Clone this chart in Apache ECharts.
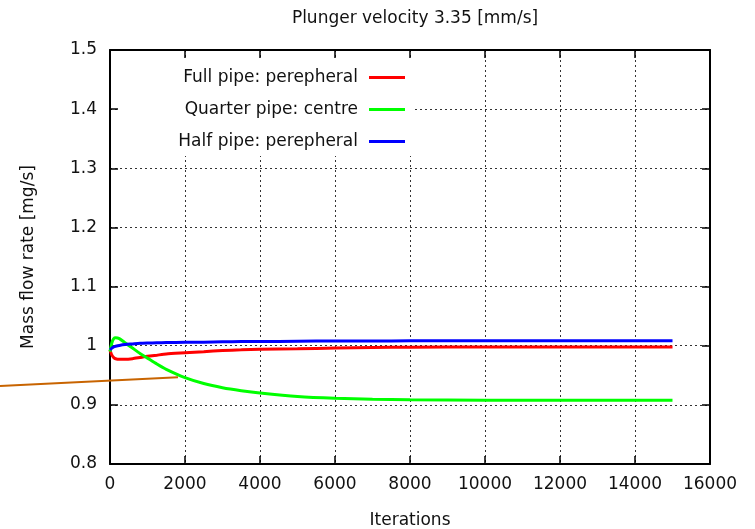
<!DOCTYPE html>
<html>
<head>
<meta charset="utf-8">
<script src="https://cdn.jsdelivr.net/npm/echarts@6/dist/echarts.min.js"></script>
<style>
  html, body { margin: 0; padding: 0; background: #fff; }
  #main { width: 755px; height: 529px; }
</style>
</head>
<body>
<div id="main"></div>
<script type="text/javascript">
var iters = [0, 50, 100, 150, 250, 400, 600, 800, 1000, 1250, 1500, 2000, 2500, 3000,
             3500, 4000, 5000, 6000, 7000, 8000, 10000, 12000, 15000];

var fullPipe = [0.993, 0.984, 0.980, 0.978, 0.977, 0.977, 0.978, 0.980, 0.982, 0.984, 0.986, 0.988, 0.990, 0.992,
                0.993, 0.994, 0.995, 0.996, 0.997, 0.9975, 0.998, 0.998, 0.998];
var quarterPipe = [0.990, 1.005, 1.012, 1.0135, 1.012, 1.005, 0.996, 0.987, 0.979, 0.969, 0.960, 0.946, 0.936, 0.929,
                   0.924, 0.920, 0.914, 0.911, 0.9095, 0.9085, 0.908, 0.9078, 0.9077];
var halfPipe = [0.993, 0.996, 0.998, 0.999, 1.0005, 1.002, 1.003, 1.004, 1.0045, 1.005, 1.0053, 1.0058, 1.006, 1.0065,
                1.007, 1.007, 1.0075, 1.008, 1.008, 1.0082, 1.0085, 1.0085, 1.0085];

// stray annotation line (starts left of the plot)
var pointerX = [-2933, 1813];
var pointerY = [0.932, 0.9466];

var seriesNames = ['Full pipe: perepheral', 'Quarter pipe: centre', 'Half pipe: perepheral'];
var seriesColors = ['#ff0000', '#00ff00', '#0000ff'];

function pairs(xs, ys) {
  var out = [];
  for (var i = 0; i < xs.length; i++) out.push([xs[i], ys[i]]);
  return out;
}

var font = 'DejaVu Sans';
var txt = { fontFamily: font, fontSize: 17, color: '#111' };
var myChart = echarts.init(document.getElementById('main'));

var gridLine = { show: true, lineStyle: { color: '#333', width: 1, type: [2, 3] } };
var border = { show: true, onZero: false, lineStyle: { color: '#000', width: 2 } };
var tick = { show: true, inside: true, length: 8, lineStyle: { color: '#000', width: 1.5 } };

var legends = [];
var rowTops = [69, 101, 133];
for (var k = 0; k < seriesNames.length; k++) {
  legends.push({
    data: [seriesNames[k]],
    right: 350,
    top: rowTops[k],
    align: 'right',
    icon: 'rect',
    itemWidth: 36,
    itemHeight: 3,
    padding: 0,
    textStyle: { fontFamily: font, fontSize: 17, color: '#111', padding: [0, 6, 0, 0] }
  });
}

var option = {
  animation: false,
  backgroundColor: '#fff',
  title: {
    text: 'Plunger velocity 3.35 [mm/s]',
    left: 410,
    top: 5,
    textAlign: 'center',
    textStyle: { fontFamily: font, fontSize: 17, fontWeight: 'normal', color: '#111' }
  },
  legend: legends,
  grid: [
    { left: 110, right: 45, top: 50, bottom: 65, outerBoundsMode: 'none' },
    // same height, reaching the left edge: carries the pointer line
    { left: 0, right: 45, top: 50, bottom: 65, outerBoundsMode: 'none' }
  ],
  graphic: [{
    type: 'rect',
    z: 1,
    shape: { x: 119, y: 59, width: 294, height: 97 },
    style: { fill: '#fff' }
  }],
  xAxis: [{
    type: 'value',
    min: 0, max: 16000, interval: 2000,
    name: 'Iterations',
    nameLocation: 'middle',
    nameGap: 48,
    nameTextStyle: txt,
    axisLine: border,
    axisTick: tick,
    axisLabel: { fontFamily: font, fontSize: 17, color: '#111', margin: 12,
                 formatter: function (v) { return String(v); } },
    splitLine: gridLine
  }, {
    type: 'value',
    position: 'top',
    min: 0, max: 16000, interval: 2000,
    axisLine: border,
    axisTick: tick,
    axisLabel: { show: false },
    splitLine: { show: false }
  }, {
    type: 'value',
    gridIndex: 1,
    min: -16000 * 110 / 600, max: 16000,
    show: false
  }],
  yAxis: [{
    type: 'value',
    min: 0.8, max: 1.5, interval: 0.1,
    name: 'Mass flow rate [mg/s]',
    nameLocation: 'middle',
    nameGap: 73,
    nameTextStyle: txt,
    axisLine: border,
    axisTick: tick,
    axisLabel: { fontFamily: font, fontSize: 17, color: '#111', margin: 13 },
    splitLine: gridLine
  }, {
    type: 'value',
    position: 'right',
    min: 0.8, max: 1.5, interval: 0.1,
    axisLine: border,
    axisTick: tick,
    axisLabel: { show: false },
    splitLine: { show: false }
  }, {
    type: 'value',
    gridIndex: 1,
    min: 0.8, max: 1.5,
    show: false
  }],
  series: [
    { name: seriesNames[0], type: 'line', data: pairs(iters, fullPipe) },
    { name: seriesNames[1], type: 'line', data: pairs(iters, quarterPipe) },
    { name: seriesNames[2], type: 'line', data: pairs(iters, halfPipe) },
    {
      name: 'pointer', type: 'line', data: pairs(pointerX, pointerY),
      xAxisIndex: 2, yAxisIndex: 2,
      symbol: 'none', silent: true,
      lineStyle: { color: '#c86400', width: 2 }
    }
  ]
};

for (var s = 0; s < 3; s++) {
  var ser = option.series[s];
  ser.symbol = 'none';
  ser.smooth = 0.2;
  ser.color = seriesColors[s];
  ser.lineStyle = { color: seriesColors[s], width: 3 };
}

myChart.setOption(option);
</script>
</body>
</html>
